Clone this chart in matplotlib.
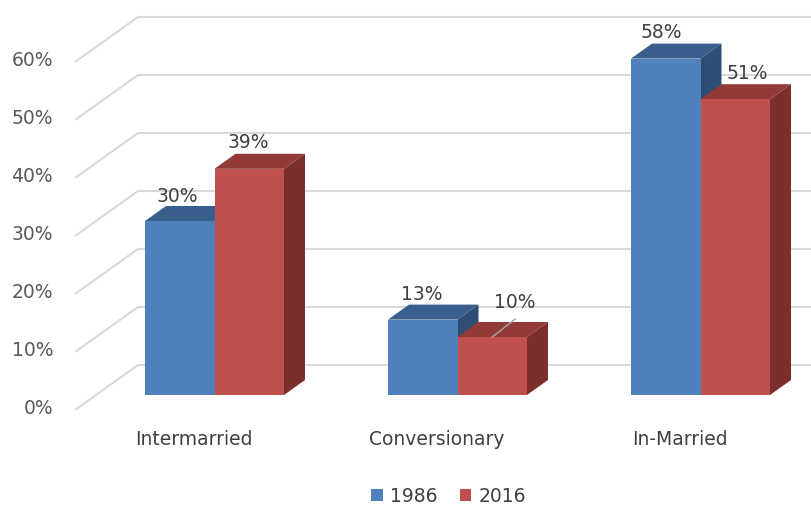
import matplotlib
matplotlib.use('Agg')  # no display
import matplotlib.pyplot as plt
from matplotlib.patches import Polygon, Rectangle

# data
categories = ['Intermarried', 'Conversionary', 'In-Married']
series_names = ['1986', '2016']
values_1986 = [30, 13, 58]
values_2016 = [39, 10, 51]
y_ticks = [0, 10, 20, 30, 40, 50, 60]

# colours: front, top, side
blue = ['#4F81BD', '#3A5F8C', '#2E4E76']
red = ['#C0504D', '#913A37', '#7B2F2D']
grid_color = '#D9D9D9'

# geometry in pixels (fake 3d, oblique projection)
W, H = 812, 506
CAT_PX = 243.0    # pixels between categories
VAL_PX = 5.8      # pixels per percent
X0_PX = 214.5     # centre of first category (bar front plane)
Y0_PX = 396.0     # 0% on bar front plane
DEPTH = (21, 15)  # bar depth offset (right, up) in px
BAR_W = 69.5 / CAT_PX
WALL_LEFT_PX = 75
FS = 13.5


def dx(px):
    return px / CAT_PX


def dy(px):
    return px / VAL_PX


fig = plt.figure(figsize=(W / 100, H / 100), dpi=100)
ax = fig.add_axes([0, 0, 1, 1])
ax.set_xlim(-X0_PX / CAT_PX, (W - X0_PX) / CAT_PX)
ax.set_ylim(-(H - Y0_PX) / VAL_PX, Y0_PX / VAL_PX)
ax.axis('off')

# gridlines: side wall diagonal + back wall horizontal
x_front = dx(WALL_LEFT_PX - X0_PX)
x_back = x_front + dx(3 * DEPTH[0])
for t in y_ticks:
    y_front = t - dy(DEPTH[1])
    y_back = t + dy(2 * DEPTH[1])
    ax.plot([x_front, x_back, ax.get_xlim()[1]], [y_front, y_back, y_back],
            color=grid_color, lw=1.5, zorder=1, solid_capstyle='butt')
    ax.text(dx(53 - X0_PX), y_front + dy(2), f'{t}%', ha='right', va='center',
            fontsize=FS, color='#595959')


def draw_bar(x_left, v, cols):
    ddx, ddy = dx(DEPTH[0]), dy(DEPTH[1])
    x_right = x_left + BAR_W
    top = Polygon([(x_left, v), (x_right, v), (x_right + ddx, v + ddy), (x_left + ddx, v + ddy)],
                  closed=True, facecolor=cols[1], edgecolor='none', zorder=2)
    side = Polygon([(x_right, 0), (x_right + ddx, ddy), (x_right + ddx, v + ddy), (x_right, v)],
                   closed=True, facecolor=cols[2], edgecolor='none', zorder=2)
    front = Rectangle((x_left, 0), BAR_W, v, facecolor=cols[0], edgecolor='none', zorder=2)
    for p in (top, side, front):
        ax.add_patch(p)


# data label offsets (px, relative to front centre / back top)
label_off_1986 = [(-2, 11), (-1, 11), (-4, 12)]
label_off_2016 = [(-1, 12), (23, 21), (12, 12)]

for i, cat in enumerate(categories):
    for k, (vals, cols, offs) in enumerate([(values_1986, blue, label_off_1986),
                                            (values_2016, red, label_off_2016)]):
        x_left = i - BAR_W + k * BAR_W
        v = vals[i]
        draw_bar(x_left, v, cols)
        xc = x_left + BAR_W / 2
        ox, oy = offs[i]
        lx = xc + dx(ox)
        ly = v + dy(DEPTH[1]) + dy(oy)
        ax.text(lx, ly, f'{v}%', ha='center', va='center', fontsize=FS,
                color='#404040', zorder=4)
        if oy > 15:
            # leader line
            ax.plot([xc, lx], [v, ly - dy(18)], color='#A6A6A6', lw=1, zorder=3)
    ax.text(i - dx(DEPTH[0]), dy(Y0_PX - 440), cat, ha='center', va='center',
            fontsize=FS, color='#404040')

# legend
handles = [Rectangle((0, 0), 1, 1, facecolor=blue[0]), Rectangle((0, 0), 1, 1, facecolor=red[0])]
fig.legend(handles, series_names, loc='center', bbox_to_anchor=(449 / W, 1 - 497 / H),
           ncol=2, frameon=False, fontsize=FS, handlelength=0.6, handleheight=0.6,
           columnspacing=1.2, handletextpad=0.4, labelcolor='#404040')

plt.savefig('out.png', dpi=100)
